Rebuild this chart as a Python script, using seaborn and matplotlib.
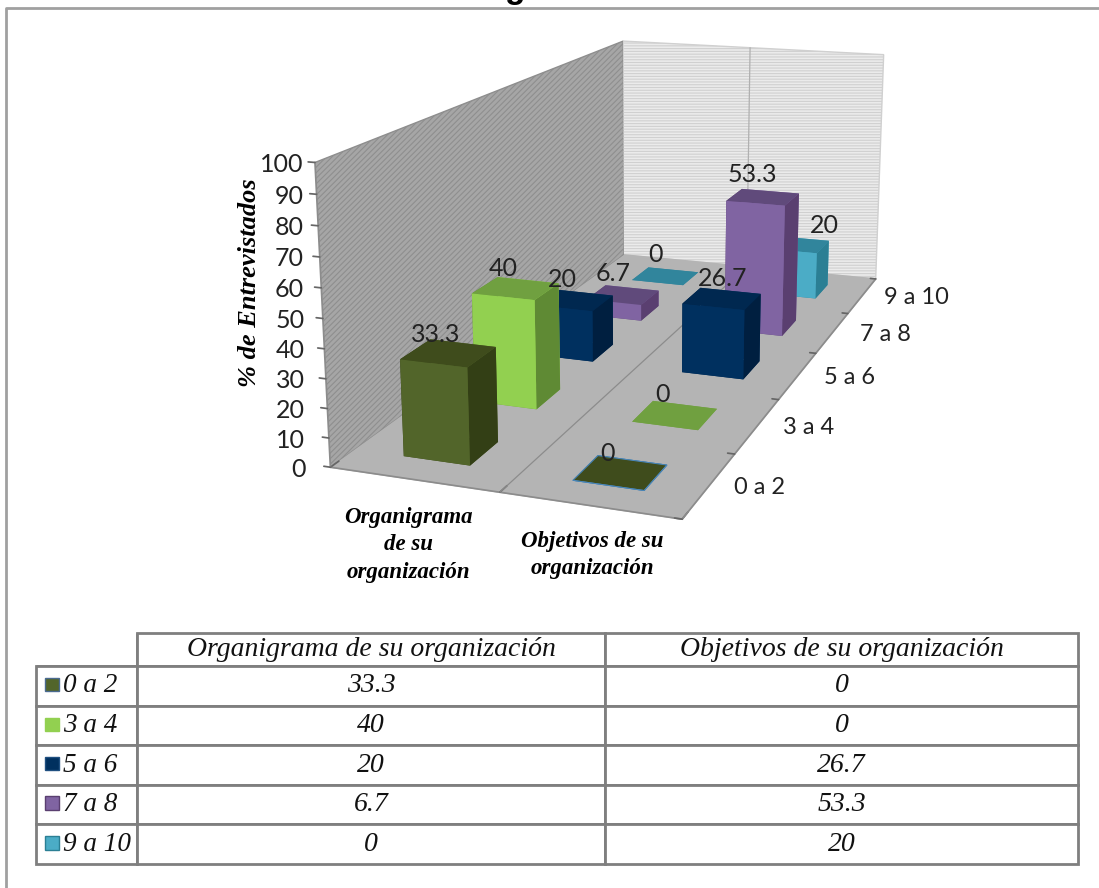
import matplotlib
matplotlib.use("Agg")
import matplotlib.pyplot as plt
from matplotlib.patches import Rectangle
from matplotlib.lines import Line2D
from mpl_toolkits.mplot3d import proj3d
import seaborn as sns

# --- Data ---
categories = ["Organigrama de su organización", "Objetivos de su organización"]
category_ticks = ["Organigrama\nde su\norganización", "Objetivos de su\norganización"]
series = ["0 a 2", "3 a 4", "5 a 6", "7 a 8", "9 a 10"]
organigrama = [33.3, 40, 20, 6.7, 0]
objetivos = [0, 0, 26.7, 53.3, 20]
values = [organigrama, objetivos]
z_ticks = [0, 10, 20, 30, 40, 50, 60, 70, 80, 90, 100]

# front / side / top colour of each series
front_colors = ["#52652a", "#92d050", "#00305f", "#8064a2", "#4bacc6"]
side_colors = ["#333f15", "#5f8a34", "#001f40", "#5a3f70", "#2b7f94"]
top_colors = ["#3f4c1c", "#70a040", "#002850", "#604a7b", "#31859c"]
swatch_edges = ["#4a6a90", "#92d050", "#1f4f80", "#5a3f70", "#2b7f94"]

sns.set_theme(style="white")
plt.rcParams["hatch.linewidth"] = 0.8

SERIF = "Liberation Serif"
SANS = "Lato"
W, H = 1099, 888

fig = plt.figure(figsize=(W / 100, H / 100), dpi=100, facecolor="white")

# Camera fitted to the corners of the chart box
ax = fig.add_axes([338.58 / W, 348.53 / H, 600 / W, 600 / H],
                  projection="3d", computed_zorder=False)
ax.set_xlim(0, len(categories), view_margin=0)
ax.set_ylim(0, len(series), view_margin=0)
ax.set_zlim(0, 100, view_margin=0)
ax.view_init(elev=14.6962, azim=-70.3898)
ax.set_proj_type("persp", focal_length=0.52483)
ax.set_box_aspect((1, 2.2768, 0.8408), zoom=1.349)
ax.patch.set_alpha(0)
ax.apply_aspect()


def label_3d(x, y, z, text, dx=0, dy=0, **kw):
    # project the data point to the page, then place ordinary figure text there
    X, Y, _ = proj3d.proj_transform(x, y, z, ax.get_proj())
    px, py = ax.transData.transform((X, Y))
    fig.text((px + dx) / W, (py + dy) / H, text, family=SANS, color="#222222", **kw)


# Walls and floor
ax.xaxis.set_pane_color("#a6a6a6")
ax.yaxis.set_pane_color("#ebebeb")
ax.zaxis.set_pane_color("#b4b4b4")
ax.xaxis.pane.set_edgecolor("#8e8e8e")
ax.xaxis.pane.set_hatch("//////")
ax.yaxis.pane.set_edgecolor("#d0d0d0")
ax.yaxis.pane.set_hatch("------")
ax.grid(False)

for axis in (ax.xaxis, ax.yaxis, ax.zaxis):
    axis.line.set_color("#8c8c8c")
    axis._axinfo["tick"]["outward_factor"] = 0.25
    axis._axinfo["tick"]["inward_factor"] = 0.0

ax.set_xticks(range(len(categories) + 1))
ax.set_yticks(range(len(series) + 1))
ax.set_zticks(z_ticks)
ax.xaxis.set_tick_params(label1On=False)
ax.yaxis.set_tick_params(label1On=False)
ax.zaxis.set_tick_params(label1On=False)
ax.zaxis.set_ticks_position("lower")
ax.zaxis._get_tickdir = lambda position: 0  # ticks run along x, so they stay level
ax.tick_params(axis="both", color="#666666")

for v in z_ticks:
    label_3d(0, 0, v, str(v), dx=-25 + 0.13 * v, dy=-2, ha="right", va="center", fontsize=18)

# Category divider on the floor and up the back wall
mid = len(categories) / 2
ax.plot([mid, mid], [0, len(series)], [0, 0], color="#8c8c8c", lw=0.9, zorder=1)
ax.plot([mid, mid], [len(series), len(series)], [0, 100], color="#b0b0b0", lw=0.9, zorder=1)

# Bars, painted back to front
bar_size = 0.4
label_lift = [6, 7, 8, 9, 9.5]
for j in reversed(range(len(series))):
    for i in range(len(categories)):
        h = values[i][j]
        flat_edge = "#4a86b8" if h == 0 and j == 0 else "none"
        ax.bar3d(i + 0.5 - bar_size / 2, j + 0.5 - bar_size / 2, 0,
                 bar_size, bar_size, h, shade=False, edgecolor=flat_edge, linewidth=0.7,
                 color=[top_colors[j], top_colors[j], front_colors[j],
                        front_colors[j], side_colors[j], side_colors[j]],
                 zorder=2)
        nudge = -0.075
        if (i, j) == (1, 2):
            nudge = 0.0
        if (i, j) == (1, 4):
            nudge = 0.21
        label_3d(i + 0.5 + nudge, j + 0.5, h + label_lift[j], f"{h:g}",
                 ha="center", va="center", fontsize=18)

# Axis labels
for j, name in enumerate(series):
    label_3d(len(categories) + 0.27 + 0.03 * j, j + 0.5, 1.5, name,
             ha="center", va="center", fontsize=17)

label_px = [(408, 545), (592, 555)]
for name, (px, py) in zip(category_ticks, label_px):
    fig.text(px / W, 1 - py / H, name, ha="center", va="center", fontsize=16.5,
             family=SERIF, style="italic", weight="bold", color="black", linespacing=1.4)

fig.text(250 / W, 1 - 283 / H, "% de Entrevistados", rotation=90, ha="center", va="center",
         fontsize=19, family=SERIF, style="italic", weight="bold", color="black")

# Table below the chart
ax_t = fig.add_axes([36 / W, 1 - 864 / H, 1042 / W, 231 / H])
ax_t.set_xlim(36, 1078)
ax_t.set_ylim(864, 633)
ax_t.axis("off")

rows = [[""] + categories]
for j, name in enumerate(series):
    rows.append([name, f"{organigrama[j]:g}", f"{objetivos[j]:g}"])

tbl = ax_t.table(cellText=rows, colWidths=[101, 468, 473], cellLoc="center",
                 bbox=[0, 0, 1, 1])
tbl.auto_set_font_size(False)
for (r, c), cell in tbl.get_celld().items():
    cell.set_height(33 if r == 0 else 39.6)
    cell.set_edgecolor("#7f7f7f")
    cell.set_linewidth(2)
    cell.set_text_props(family=SERIF, style="italic", fontsize=20, color="#111111")
    if c == 0:
        cell.set_text_props(ha="left", fontsize=19.5)
        cell.PAD = 0.27
tbl[(0, 0)].visible_edges = "BR"

row_tops = [666, 706, 745, 784, 824]
for j, top in enumerate(row_tops):
    ax_t.add_patch(Rectangle((45, top + 12), 13.5, 13.5, facecolor=front_colors[j],
                             edgecolor=swatch_edges[j], lw=1, clip_on=False, zorder=5))

# Page frame and the clipped title above it
fig.add_artist(Line2D([6 / W, 6 / W, 1], [0, 1 - 8 / H, 1 - 8 / H], color="#a0a0a0", lw=2))
fig.text(515 / W, 1 + 2 / H, "g", ha="center", va="baseline", fontsize=24,
         family="Liberation Sans", weight="bold", color="black")

fig.savefig("out.png", dpi=100)
